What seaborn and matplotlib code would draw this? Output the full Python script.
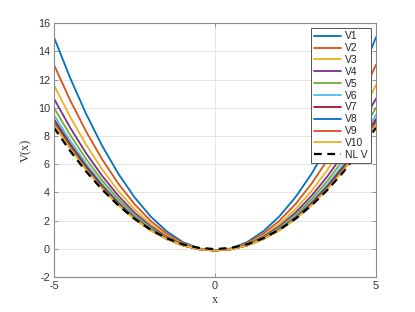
import numpy as np
import pandas as pd
import matplotlib
matplotlib.use("Agg")
import matplotlib.pyplot as plt
import seaborn as sns

# -----------------------------
# data
# -----------------------------
x = [-5, -4.5, -4, -3.5, -3, -2.5, -2, -1.5, -1, -0.5, 0,
     0.5, 1, 1.5, 2, 2.5, 3, 3.5, 4, 4.5, 5]

v1 = [15.0, 12.13, 9.56, 7.29, 5.32, 3.66, 2.30, 1.24, 0.48, 0.03, -0.12,
      0.03, 0.48, 1.24, 2.30, 3.66, 5.32, 7.29, 9.56, 12.13, 15.0]
v2 = [13.05, 10.55, 8.31, 6.33, 4.62, 3.17, 1.99, 1.07, 0.41, 0.01, -0.12,
      0.01, 0.41, 1.07, 1.99, 3.17, 4.62, 6.33, 8.31, 10.55, 13.05]
v3 = [11.6, 9.37, 7.38, 5.62, 4.10, 2.81, 1.76, 0.93, 0.35, 0.00, -0.12,
      0.00, 0.35, 0.93, 1.76, 2.81, 4.10, 5.62, 7.38, 9.37, 11.6]
v4 = [10.65, 8.60, 6.77, 5.16, 3.76, 2.57, 1.60, 0.85, 0.31, -0.01, -0.12,
      -0.01, 0.31, 0.85, 1.60, 2.57, 3.76, 5.16, 6.77, 8.60, 10.65]
v5 = [10.0, 8.08, 6.36, 4.84, 3.52, 2.41, 1.50, 0.79, 0.28, -0.02, -0.12,
      -0.02, 0.28, 0.79, 1.50, 2.41, 3.52, 4.84, 6.36, 8.08, 10.0]
v6 = [9.5, 7.67, 6.04, 4.59, 3.34, 2.29, 1.42, 0.75, 0.26, -0.02, -0.12,
      -0.02, 0.26, 0.75, 1.42, 2.29, 3.34, 4.59, 6.04, 7.67, 9.5]
v7 = [9.2, 7.43, 5.85, 4.45, 3.24, 2.21, 1.37, 0.72, 0.25, -0.03, -0.12,
      -0.03, 0.25, 0.72, 1.37, 2.21, 3.24, 4.45, 5.85, 7.43, 9.2]
v8 = [9.0, 7.27, 5.72, 4.35, 3.16, 2.16, 1.34, 0.70, 0.24, -0.03, -0.12,
      -0.03, 0.24, 0.70, 1.34, 2.16, 3.16, 4.35, 5.72, 7.27, 9.0]
v9 = [8.9, 7.19, 5.65, 4.30, 3.13, 2.13, 1.32, 0.69, 0.24, -0.03, -0.12,
      -0.03, 0.24, 0.69, 1.32, 2.13, 3.13, 4.30, 5.65, 7.19, 8.9]
v10 = [8.8, 7.11, 5.59, 4.25, 3.09, 2.11, 1.31, 0.68, 0.24, -0.03, -0.12,
       -0.03, 0.24, 0.68, 1.31, 2.11, 3.09, 4.25, 5.59, 7.11, 8.8]
nl_v = [8.58, 6.95, 5.48, 4.19, 3.08, 2.13, 1.36, 0.75, 0.32, 0.07, -0.02,
        0.07, 0.32, 0.75, 1.36, 2.13, 3.08, 4.19, 5.48, 6.95, 8.58]

names = ["V1", "V2", "V3", "V4", "V5", "V6", "V7", "V8", "V9", "V10"]
series = [v1, v2, v3, v4, v5, v6, v7, v8, v9, v10]
colors = ["#0072BD", "#D95319", "#EDB120", "#7E2F8E", "#77AC30",
          "#4DBEEE", "#A2142F", "#0072BD", "#D95319", "#EDB120"]

sns.set_style("white")
plt.rcParams['font.family'] = ['Liberation Sans', 'DejaVu Sans']
plt.rcParams['axes.unicode_minus'] = False

fig = plt.figure(figsize=(4.15, 3.12), dpi=100)
ax = fig.add_axes([0.130, 0.112, 0.776, 0.814])

for name, vals, col in zip(names, series, colors):
    sns.lineplot(x=x, y=vals, color=col, linewidth=1.3, label=name, ax=ax)
sns.lineplot(x=x, y=nl_v, color="black", linewidth=1.6, label="NL V", ax=ax)
ax.lines[-1].set_dashes([3.5, 2.5])

ax.set_xlim(-5, 5)
ax.set_ylim(-2, 16)
ax.set_xticks([-5, 0, 5])
ax.set_yticks(range(-2, 17, 2))
ax.grid(True, color="#e3e3e3", linewidth=0.7)
ax.set_axisbelow(True)
for sp in ax.spines.values():
    sp.set_color("#8a8a8a")
    sp.set_linewidth(0.8)
ax.tick_params(direction="in", length=3, width=0.6, color="#8a8a8a",
               labelsize=7.8, labelcolor="#333333", top=True, right=True,
               left=True, bottom=True, pad=3)

ax.set_xlabel("x", family="Liberation Serif", fontsize=9, color="#333333", labelpad=2)
ax.set_ylabel("V(x)", family="Liberation Serif", fontsize=9, color="#333333", labelpad=4)

leg = ax.legend(loc="upper right", fontsize=7.4, frameon=True, fancybox=False,
                handlelength=2.6, handletextpad=0.4, borderpad=0.3,
                labelspacing=0.18, borderaxespad=0.5)
leg.get_frame().set_edgecolor("#555555")
leg.get_frame().set_linewidth(0.7)
leg.get_frame().set_alpha(1)

fig.savefig("out.png", dpi=100)
